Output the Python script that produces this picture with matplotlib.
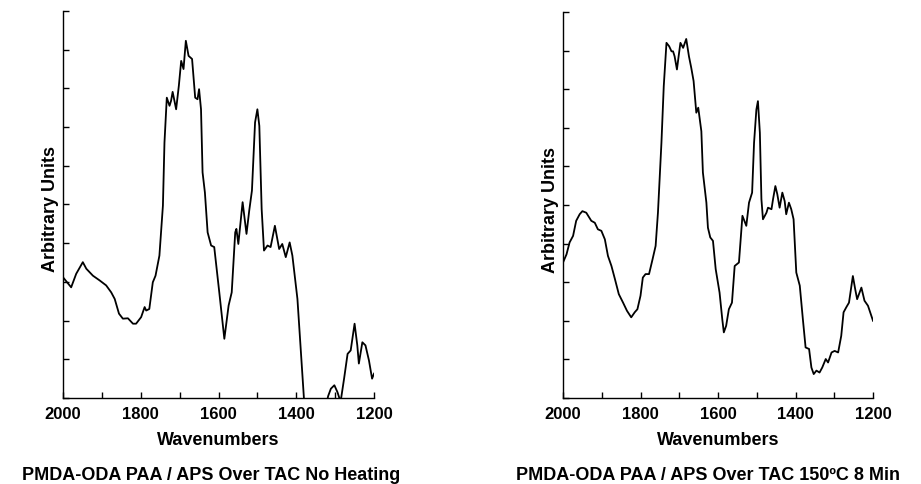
import matplotlib
matplotlib.use('Agg')
import matplotlib.pyplot as plt
from matplotlib.ticker import MultipleLocator

plt.rcParams['font.family'] = ['Liberation Sans', 'DejaVu Sans']

# wavenumber / intensity
wn_left = [2000, 1979, 1966, 1949, 1940, 1923, 1906, 1889, 1876, 1867, 1856, 1846,
           1833, 1820, 1812, 1799, 1790, 1786, 1778, 1769, 1762, 1752, 1743, 1739,
           1733, 1726, 1722, 1718, 1709, 1702, 1696, 1690, 1684, 1677, 1668, 1660,
           1654, 1650, 1645, 1641, 1635, 1628, 1619, 1611, 1598, 1585, 1574, 1566,
           1557, 1554, 1549, 1538, 1528, 1521, 1514, 1506, 1500, 1495, 1489, 1483,
           1474, 1466, 1455, 1444, 1436, 1427, 1417, 1410, 1397, 1380, 1360, 1340,
           1328, 1318, 1311, 1302, 1294, 1286, 1277, 1268, 1260, 1250, 1243, 1239,
           1230, 1222, 1213, 1205, 1200]
ab_left = [3.12, 2.86, 3.21, 3.51, 3.34, 3.16, 3.04, 2.91, 2.73, 2.56, 2.18, 2.05,
           2.06, 1.92, 1.92, 2.09, 2.35, 2.26, 2.30, 2.99, 3.16, 3.68, 4.97, 6.60,
           7.76, 7.55, 7.68, 7.91, 7.46, 8.07, 8.71, 8.50, 9.23, 8.84, 8.76, 7.76,
           7.72, 7.98, 7.46, 5.83, 5.31, 4.28, 3.94, 3.90, 2.73, 1.53, 2.39, 2.73,
           4.28, 4.37, 3.98, 5.06, 4.24, 4.84, 5.36, 7.12, 7.46, 7.03, 4.88, 3.81,
           3.94, 3.90, 4.45, 3.85, 3.98, 3.64, 4.02, 3.68, 2.56, -0.05, -1.6, -1.6,
           -0.4, 0.05, 0.24, 0.33, 0.15, -0.1, 0.50, 1.14, 1.23, 1.92, 1.36, 0.89,
           1.44, 1.36, 0.97, 0.50, 0.63]

wn_right = [2000, 1991, 1983, 1974, 1966, 1957, 1950, 1940, 1927, 1918, 1910, 1901,
            1892, 1884, 1875, 1866, 1856, 1845, 1835, 1824, 1815, 1808, 1800, 1794,
            1787, 1778, 1769, 1761, 1755, 1746, 1740, 1733, 1726, 1720, 1716, 1712,
            1706, 1701, 1697, 1690, 1682, 1675, 1669, 1663, 1656, 1651, 1643, 1639,
            1630, 1626, 1620, 1613, 1606, 1596, 1589, 1585, 1579, 1572, 1564, 1557,
            1546, 1537, 1527, 1520, 1512, 1507, 1501, 1497, 1492, 1488, 1484, 1475,
            1471, 1462, 1458, 1452, 1447, 1441, 1434, 1428, 1424, 1417, 1411, 1405,
            1398, 1389, 1381, 1374, 1365, 1359, 1353, 1346, 1338, 1331, 1322, 1316,
            1307, 1299, 1290, 1282, 1276, 1269, 1262, 1252, 1246, 1241, 1230, 1222,
            1213, 1200]
ab_right = [3.51, 3.72, 4.03, 4.20, 4.59, 4.76, 4.84, 4.80, 4.59, 4.54, 4.37, 4.33,
            4.11, 3.68, 3.42, 3.08, 2.69, 2.47, 2.26, 2.09, 2.22, 2.30, 2.65, 3.12,
            3.21, 3.21, 3.59, 3.94, 4.80, 6.61, 8.08, 9.20, 9.11, 8.98, 8.98, 8.85,
            8.51, 8.90, 9.20, 9.07, 9.30, 8.85, 8.55, 8.21, 7.39, 7.52, 6.91, 5.84,
            5.06, 4.41, 4.16, 4.07, 3.34, 2.73, 2.04, 1.70, 1.87, 2.30, 2.47, 3.42,
            3.51, 4.72, 4.46, 5.06, 5.32, 6.61, 7.47, 7.69, 6.87, 5.15, 4.63, 4.80,
            4.93, 4.89, 5.15, 5.49, 5.28, 4.93, 5.32, 5.10, 4.76, 5.06, 4.89, 4.63,
            3.25, 2.91, 2.04, 1.31, 1.27, 0.79, 0.62, 0.71, 0.66, 0.79, 1.01, 0.92,
            1.18, 1.22, 1.18, 1.61, 2.22, 2.35, 2.47, 3.16, 2.82, 2.56, 2.86, 2.52,
            2.39, 2.00]

xticks = [2000, 1800, 1600, 1400, 1200]
titles = ['PMDA-ODA PAA / APS Over TAC No Heating',
          'PMDA-ODA PAA / APS Over TAC 150ºC 8 Min']

fig = plt.figure(figsize=(9.21, 4.85), dpi=100)
ax1 = fig.add_axes([0.0684, 0.1773, 0.3377, 0.798])
ax2 = fig.add_axes([0.6113, 0.1773, 0.3366, 0.796])

panels = [(ax1, wn_left, ab_left, titles[0]), (ax2, wn_right, ab_right, titles[1])]
for ax, x, y, title in panels:
    ax.plot(x, y, color='black', lw=1.3)
    ax.set_xlim(2000, 1200)
    ax.set_ylim(0, 10)
    for s in ['top', 'right']:
        ax.spines[s].set_visible(False)
    ax.spines['left'].set_linewidth(1.0)
    ax.spines['bottom'].set_linewidth(1.0)
    ax.set_xticks(xticks)
    ax.set_xticklabels([str(t) for t in xticks], fontweight='bold', fontsize=12)
    ax.xaxis.set_minor_locator(MultipleLocator(100))
    ax.yaxis.set_major_locator(MultipleLocator(1))
    ax.set_yticklabels([])
    ax.tick_params(axis='both', which='both', direction='in', length=4, width=1.0)
    ax.tick_params(axis='x', pad=6)
    ax.set_xlabel('Wavenumbers', fontweight='bold', fontsize=13, va='top')
    ax.xaxis.set_label_coords(0.5, -0.085)
    ax.set_ylabel('Arbitrary Units', fontweight='bold', fontsize=13)
    ax.yaxis.set_label_coords(-0.012, 0.49)

fig.text(0.229, 0.0103, titles[0], ha='center', va='baseline', fontsize=13, fontweight='bold')
fig.text(0.769, 0.0103, titles[1], ha='center', va='baseline', fontsize=13, fontweight='bold')

fig.savefig('out.png', dpi=100)
